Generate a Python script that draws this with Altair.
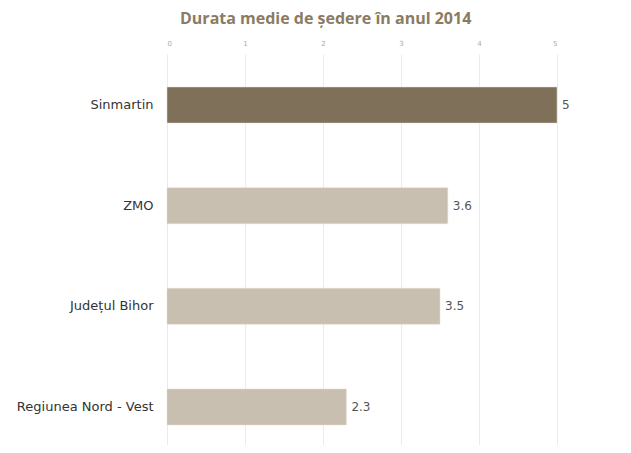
import altair as alt
import pandas as pd

categories = ["Sinmartin", "ZMO", "Județul Bihor", "Regiunea Nord - Vest"]
values = [5, 3.6, 3.5, 2.3]
highlight = [True, False, False, False]
x_ticks = [0, 1, 2, 3, 4, 5]

df = pd.DataFrame({"cat": categories, "val": values, "hl": highlight})

y_enc = alt.Y(
    "cat:N",
    sort=categories,
    title=None,
    scale=alt.Scale(range=[0, 404], paddingInner=0.642, paddingOuter=0.328),
    axis=alt.Axis(domain=False, ticks=False, labelPadding=14, labelFontSize=13,
                  labelFont="DejaVu Sans", labelColor="#333333"),
)

bars = alt.Chart(df).mark_bar(stroke="#e4ded4", strokeWidth=0.5).encode(
    x=alt.X("val:Q", title=None,
            scale=alt.Scale(domain=[0, 5], nice=False),
            axis=alt.Axis(orient="top", values=x_ticks, format="d", domain=False, ticks=False,
                          labelFontSize=7, labelColor="#aaaaaa", labelPadding=8,
                          labelFont="DejaVu Sans",
                          grid=True, gridColor="#ebebeb", gridWidth=1)),
    y=y_enc,
    color=alt.Color("hl:N", scale=alt.Scale(domain=[True, False], range=["#7f7059", "#c8bfb0"]), legend=None),
)

labels = alt.Chart(df).mark_text(align="left", baseline="middle", dx=5, fontSize=12,
                                 font="DejaVu Sans", color="#555555").encode(
    x="val:Q",
    y=alt.Y("cat:N", sort=categories),
    text=alt.Text("val:Q"),
)

chart = (bars + labels).properties(
    width=390,
    height=391,
    autosize="none",
    padding={"left": 159, "top": 46, "right": 40, "bottom": 0},
    title=alt.TitleParams("Durata medie de ședere în anul 2014", anchor="start", frame="group",
                          dx=13, offset=12, font="Open Sans", fontSize=16, fontWeight="bold",
                          color="#8b7b62"),
).configure_view(stroke=None)

chart.save("out.html", embed_options={"renderer": "svg", "actions": False})
